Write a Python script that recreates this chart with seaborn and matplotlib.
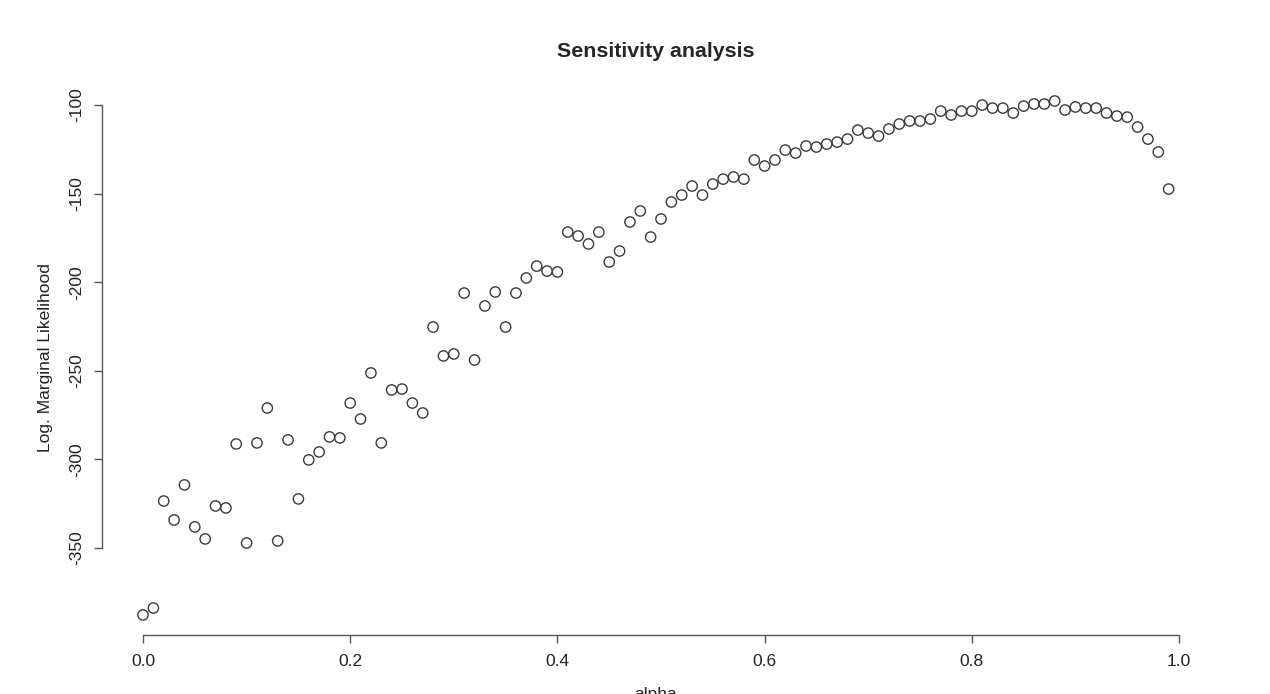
import matplotlib
matplotlib.use('Agg')
import matplotlib.pyplot as plt
import numpy as np
import pandas as pd
import seaborn as sns

# alpha grid and log marginal likelihood
alpha = [i / 100 for i in range(100)]
log_ml = [
    -387.8, -383.9, -323.5, -334.2, -314.4, -338.1, -344.9, -326.3, -327.4, -291.3,
    -347.2, -290.7, -271.0, -346.0, -289.0, -322.3, -300.3, -295.8, -287.3, -287.9,
    -268.2, -277.2, -251.2, -290.7, -260.8, -260.3, -268.2, -273.8, -225.3, -241.6,
    -240.5, -206.1, -243.9, -213.4, -205.5, -225.3, -206.1, -197.6, -190.9, -193.7,
    -194.2, -171.7, -173.9, -178.4, -171.7, -188.6, -182.4, -166.0, -159.8, -174.5,
    -164.3, -154.7, -150.8, -145.7, -150.8, -144.6, -141.8, -140.6, -141.8, -131.0,
    -134.4, -131.0, -125.4, -127.1, -123.1, -123.7, -122.0, -120.9, -119.2, -114.1,
    -115.8, -117.5, -113.5, -110.7, -109.0, -109.0, -107.9, -103.4, -105.6, -103.4,
    -103.4, -100.0, -101.7, -101.7, -104.5, -100.6, -99.4, -99.4, -97.7, -102.8,
    -101.1, -101.7, -101.7, -104.5, -106.2, -106.8, -112.4, -119.2, -126.5, -147.4,
]
x_ticks = [0.0, 0.2, 0.4, 0.6, 0.8, 1.0]
y_ticks = [-350, -300, -250, -200, -150, -100]

df = pd.DataFrame({'alpha': alpha, 'loglik': log_ml})

sns.set_style('white')
plt.rcParams['font.family'] = ['Liberation Sans', 'DejaVu Sans']

fig = plt.figure(figsize=(12.7, 6.94), dpi=100)
ax = fig.add_axes([0.0803, 0.0843, 0.8722, 0.7998])

sns.scatterplot(data=df, x='alpha', y='loglik', ax=ax, marker='o', s=55,
                facecolor='none', edgecolor='#3a3a3a', linewidth=1.0)

# R style 4% padding around the data
xr = max(alpha) - min(alpha)
yr = max(log_ml) - min(log_ml)
ax.set_xlim(min(alpha) - 0.04 * xr, max(alpha) + 0.04 * xr)
ax.set_ylim(min(log_ml) - 0.04 * yr, max(log_ml) + 0.04 * yr)

ax.set_xticks(x_ticks)
ax.set_xticklabels(['0.0', '0.2', '0.4', '0.6', '0.8', '1.0'])
ax.set_yticks(y_ticks)
ax.set_yticklabels([str(v) for v in y_ticks], rotation=90, va='center')

for s in ['top', 'right']:
    ax.spines[s].set_visible(False)
ax.spines['left'].set_bounds(-350, -100)
ax.spines['bottom'].set_bounds(0, 1)
for s in ['left', 'bottom']:
    ax.spines[s].set_color('#555555')
    ax.spines[s].set_linewidth(1.0)

ax.tick_params(axis='both', direction='out', length=5.5, width=1.0,
               bottom=True, left=True,
               color='#555555', labelsize=12.5, labelcolor='#222222')
ax.tick_params(axis='y', pad=7)
ax.tick_params(axis='x', pad=8)

ax.set_xlabel('alpha', fontsize=12.5, color='#222222', labelpad=13)
ax.set_ylabel('Log. Marginal Likelihood', fontsize=12.5, color='#222222', labelpad=12)
ax.set_title('Sensitivity analysis', fontsize=15.4, fontweight='bold', pad=17)

fig.savefig('out.png', dpi=100)
